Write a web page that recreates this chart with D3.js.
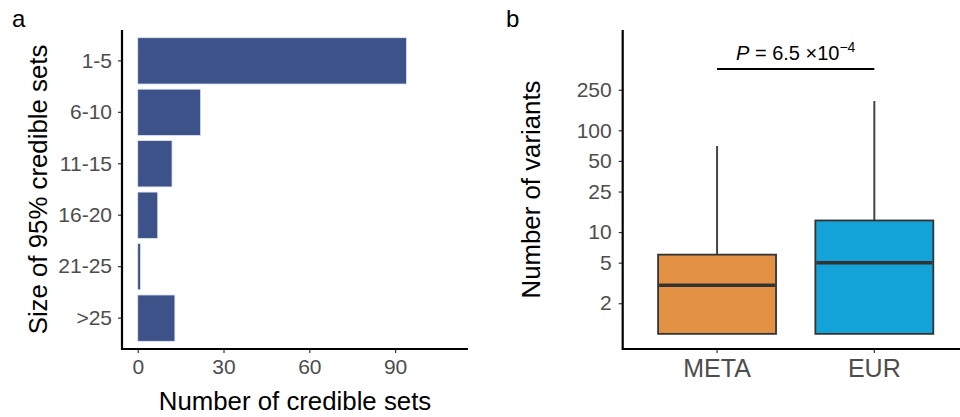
<!DOCTYPE html>
<html>
<head>
<meta charset="utf-8">
<script src="https://cdn.jsdelivr.net/npm/d3@7"></script>
<style>
  html, body { margin: 0; padding: 0; background: #fff; }
  svg { display: block; font-family: "Liberation Sans", Arial, Helvetica, sans-serif; }
</style>
</head>
<body>
<svg id="chart" width="960" height="417"></svg>
<script>
// ---- Data: panel a ----
const sizeCategories = ["1-5", "6-10", "11-15", "16-20", "21-25", ">25"];
const credibleSetCounts = [94, 22, 12, 7, 1, 13];
const countTicks = [0, 30, 60, 90];

// ---- Data: panel b (box plot statistics) ----
const groups = ["META", "EUR"];
const whiskerLow = [1, 1];
const q1 = [1, 1];
const medians = [3, 5];
const q3 = [6, 13];
const whiskerHigh = [70, 194];
const variantTicks = [2, 5, 10, 25, 50, 100, 250];
const pLineValue = 400;

const svg = d3.select("#chart");
const tickColor = "#4d4d4d";
const FF = "Liberation Sans, Arial, sans-serif";

// ================= Panel a =================
const ax = d3.scaleLinear().domain([-5.5, 115.5]).range([122, 468]);
const ay = d3.scaleBand().domain(sizeCategories).range([30, 349])
  .paddingInner(0.1).paddingOuter(0.15);

const ga = svg.append("g");
ga.selectAll("rect.bar").data(sizeCategories).join("rect")
  .attr("class", "bar")
  .attr("x", ax(0))
  .attr("y", d => ay(d))
  .attr("width", (d, i) => ax(credibleSetCounts[i]) - ax(0))
  .attr("height", ay.bandwidth())
  .attr("fill", "#3d5288")
  .attr("stroke", "#dfe6f2")
  .attr("stroke-width", 0.8);

const axisXa = ga.append("g").attr("transform", "translate(0,349)")
  .call(d3.axisBottom(ax).tickValues(countTicks).tickSize(4).tickPadding(6));
const axisYa = ga.append("g").attr("transform", "translate(122,0)")
  .call(d3.axisLeft(ay).tickSize(4).tickPadding(6));

[axisXa, axisYa].forEach(g => {
  g.select(".domain").remove();
  g.selectAll(".tick line").attr("stroke", "#333").attr("stroke-width", 1.2);
  g.selectAll(".tick text").attr("fill", tickColor).attr("font-size", 21)
    .attr("font-family", FF);
});

ga.append("line").attr("x1", 122).attr("x2", 468).attr("y1", 349).attr("y2", 349)
  .attr("stroke", "#000").attr("stroke-width", 2.2);
ga.append("line").attr("x1", 122).attr("x2", 122).attr("y1", 30).attr("y2", 350.1)
  .attr("stroke", "#000").attr("stroke-width", 2.2);

ga.append("text").attr("x", 295).attr("y", 410).attr("text-anchor", "middle")
  .attr("font-size", 25.8).attr("fill", "#000").text("Number of credible sets");
ga.append("text").attr("transform", "translate(46.5,189.5) rotate(-90)")
  .attr("text-anchor", "middle").attr("font-size", 25.8).attr("fill", "#000")
  .text("Size of 95% credible sets");
ga.append("text").attr("x", 12).attr("y", 27).attr("font-size", 24).attr("fill", "#000").text("a");

// ================= Panel b =================
const bx = d3.scaleBand().domain(groups).range([622.7, 968.7])
  .paddingInner(0.25).paddingOuter(0.225);
const by = d3.scaleLog().domain([0.71, 966]).range([349, 30]);

const gb = svg.append("g");
const bw = bx.bandwidth();

gb.selectAll("line.whiskHi").data(groups).join("line")
  .attr("x1", d => bx(d) + bw / 2).attr("x2", d => bx(d) + bw / 2)
  .attr("y1", (d, i) => by(q3[i])).attr("y2", (d, i) => by(whiskerHigh[i]))
  .attr("stroke", "#444").attr("stroke-width", 2);
gb.selectAll("line.whiskLo").data(groups).join("line")
  .attr("x1", d => bx(d) + bw / 2).attr("x2", d => bx(d) + bw / 2)
  .attr("y1", (d, i) => by(q1[i])).attr("y2", (d, i) => by(whiskerLow[i]))
  .attr("stroke", "#444").attr("stroke-width", 2);

const boxColors = ["#e39245", "#13a3d8"];
gb.selectAll("rect.box").data(groups).join("rect")
  .attr("x", d => bx(d)).attr("width", bw)
  .attr("y", (d, i) => by(q3[i]))
  .attr("height", (d, i) => by(q1[i]) - by(q3[i]))
  .attr("fill", (d, i) => boxColors[i])
  .attr("stroke", "#333").attr("stroke-width", 1.8);
gb.selectAll("line.median").data(groups).join("line")
  .attr("x1", d => bx(d) + 1).attr("x2", d => bx(d) + bw - 1)
  .attr("y1", (d, i) => by(medians[i])).attr("y2", (d, i) => by(medians[i]))
  .attr("stroke", "#333").attr("stroke-width", 3.6);

const pY = by(pLineValue);
gb.append("line")
  .attr("x1", bx(groups[0]) + bw / 2).attr("x2", bx(groups[1]) + bw / 2)
  .attr("y1", pY).attr("y2", pY).attr("stroke", "#000").attr("stroke-width", 2);
const pText = gb.append("text")
  .attr("x", (bx(groups[0]) + bx(groups[1])) / 2 + bw / 2)
  .attr("y", pY - 8.5).attr("text-anchor", "middle").attr("font-size", 20).attr("fill", "#000");
pText.append("tspan").attr("font-style", "italic").text("P");
pText.append("tspan").text(" = 6.5 ×10");
pText.append("tspan").attr("dy", -8).attr("font-size", 14).text("−4");

const axisXb = gb.append("g").attr("transform", "translate(0,349)")
  .call(d3.axisBottom(bx).tickSize(4).tickPadding(6));
const axisYb = gb.append("g").attr("transform", "translate(622.7,0)")
  .call(d3.axisLeft(by).tickValues(variantTicks).tickFormat(d3.format("d")).tickSize(4).tickPadding(7));
[axisXb, axisYb].forEach(g => {
  g.select(".domain").remove();
  g.selectAll(".tick line").attr("stroke", "#333").attr("stroke-width", 1.2);
  g.selectAll(".tick text").attr("fill", tickColor).attr("font-family", FF);
});
axisYb.selectAll(".tick text").attr("font-size", 21);
axisXb.selectAll(".tick text").attr("font-size", 25);

gb.append("line").attr("x1", 622.7).attr("x2", 960).attr("y1", 349).attr("y2", 349)
  .attr("stroke", "#000").attr("stroke-width", 2.2);
gb.append("line").attr("x1", 622.7).attr("x2", 622.7).attr("y1", 30).attr("y2", 350.1)
  .attr("stroke", "#000").attr("stroke-width", 2.2);

gb.append("text").attr("transform", "translate(540,189.5) rotate(-90)")
  .attr("text-anchor", "middle").attr("font-size", 25.8).attr("fill", "#000")
  .text("Number of variants");
gb.append("text").attr("x", 506).attr("y", 27).attr("font-size", 24).attr("fill", "#000").text("b");
</script>
</body>
</html>
